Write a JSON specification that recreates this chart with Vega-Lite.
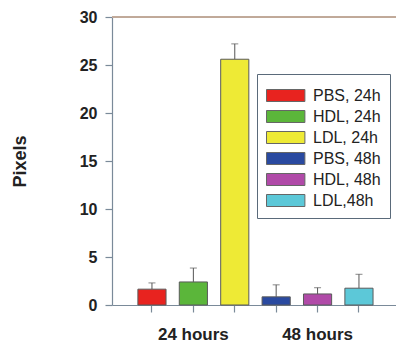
{
  "$schema": "https://vega.github.io/schema/vega-lite/v6.json",
  "width": 284,
  "height": 288,
  "autosize": "none",
  "padding": {"left": 112, "top": 17, "right": 0, "bottom": 42},
  "background": "white",
  "config": {"view": {"stroke": null}, "font": "Liberation Sans"},
  "data": {
    "values": [
      {"cond": "PBS, 24h", "value": 1.65, "err": 2.3},
      {"cond": "HDL, 24h", "value": 2.4, "err": 3.85},
      {"cond": "LDL, 24h", "value": 25.6, "err": 27.2},
      {"cond": "PBS, 48h", "value": 0.85, "err": 2.1},
      {"cond": "HDL, 48h", "value": 1.15, "err": 1.8},
      {"cond": "LDL,48h", "value": 1.75, "err": 3.2}
    ]
  },
  "encoding": {
    "x": {
      "field": "cond",
      "type": "nominal",
      "sort": null,
      "scale": {"paddingInner": 0.32, "paddingOuter": 0.59, "align": 0.53},
      "axis": {
        "title": null,
        "labelAngle": 0,
        "labelExpr": "datum.value == 'HDL, 24h' ? '24 hours' : (datum.value == 'HDL, 48h' ? '48 hours' : '')",
        "labelFont": "Liberation Sans",
        "labelFontWeight": "bold",
        "labelFontSize": 17,
        "labelColor": "#222",
        "labelPadding": 14,
        "tickSize": 7,
        "tickColor": "#7a8a99",
        "domainColor": "#7a8a99",
        "domainWidth": 1.2,
        "tickWidth": 1.2
      }
    }
  },
  "layer": [
    {
      "mark": {"type": "rule", "color": "#c0a898", "strokeWidth": 1},
      "encoding": {"y": {"datum": 30, "type": "quantitative"}, "x": null}
    },
    {
      "mark": {"type": "rule", "color": "#555", "strokeWidth": 1},
      "encoding": {
        "y": {"field": "value", "type": "quantitative"},
        "y2": {"field": "err"}
      }
    },
    {
      "mark": {"type": "tick", "color": "#555", "thickness": 1, "size": 7},
      "encoding": {
        "y": {"field": "err", "type": "quantitative"}
      }
    },
    {
      "mark": {"type": "bar", "stroke": "#5a5a5a", "strokeWidth": 1},
      "encoding": {
        "y": {
          "field": "value",
          "type": "quantitative",
          "scale": {"domain": [0, 30], "nice": false},
          "axis": {
            "title": "Pixels",
            "titleFont": "Liberation Sans",
            "titleFontWeight": "bold",
            "titleFontSize": 18,
            "titleColor": "#222",
            "titlePadding": 50,
            "values": [0, 5, 10, 15, 20, 25, 30],
            "grid": false,
            "labelFont": "Liberation Sans",
            "labelFontWeight": "bold",
            "labelFontSize": 16,
            "labelColor": "#222",
            "labelPadding": 8,
            "tickSize": 7,
            "tickColor": "#7a8a99",
            "domainColor": "#7a8a99",
            "domainWidth": 1.2,
            "tickWidth": 1.2
          }
        },
        "color": {
          "field": "cond",
          "type": "nominal",
          "sort": null,
          "scale": {
            "domain": ["PBS, 24h", "HDL, 24h", "LDL, 24h", "PBS, 48h", "HDL, 48h", "LDL,48h"],
            "range": ["#e8231f", "#5bb63a", "#eeea35", "#2a4aa0", "#b04aa8", "#5cc8d8"]
          },
          "legend": {
            "title": null,
            "orient": "none",
            "legendX": 145,
            "legendY": 57,
            "strokeColor": "#5a6a7a",
            "fillColor": "white",
            "padding": 9,
            "symbolType": "M-1,-0.5L2.2,-0.5L2.2,0.5L-1,0.5Z",
            "symbolSize": 576,
            "symbolStrokeColor": "#666",
            "symbolStrokeWidth": 1,
            "symbolOpacity": 1,
            "labelOffset": 22,
            "rowPadding": -4,
            "labelFont": "Liberation Sans",
            "labelFontSize": 16,
            "labelColor": "#222",
            "labelLimit": 200
          }
        }
      }
    }
  ]
}
